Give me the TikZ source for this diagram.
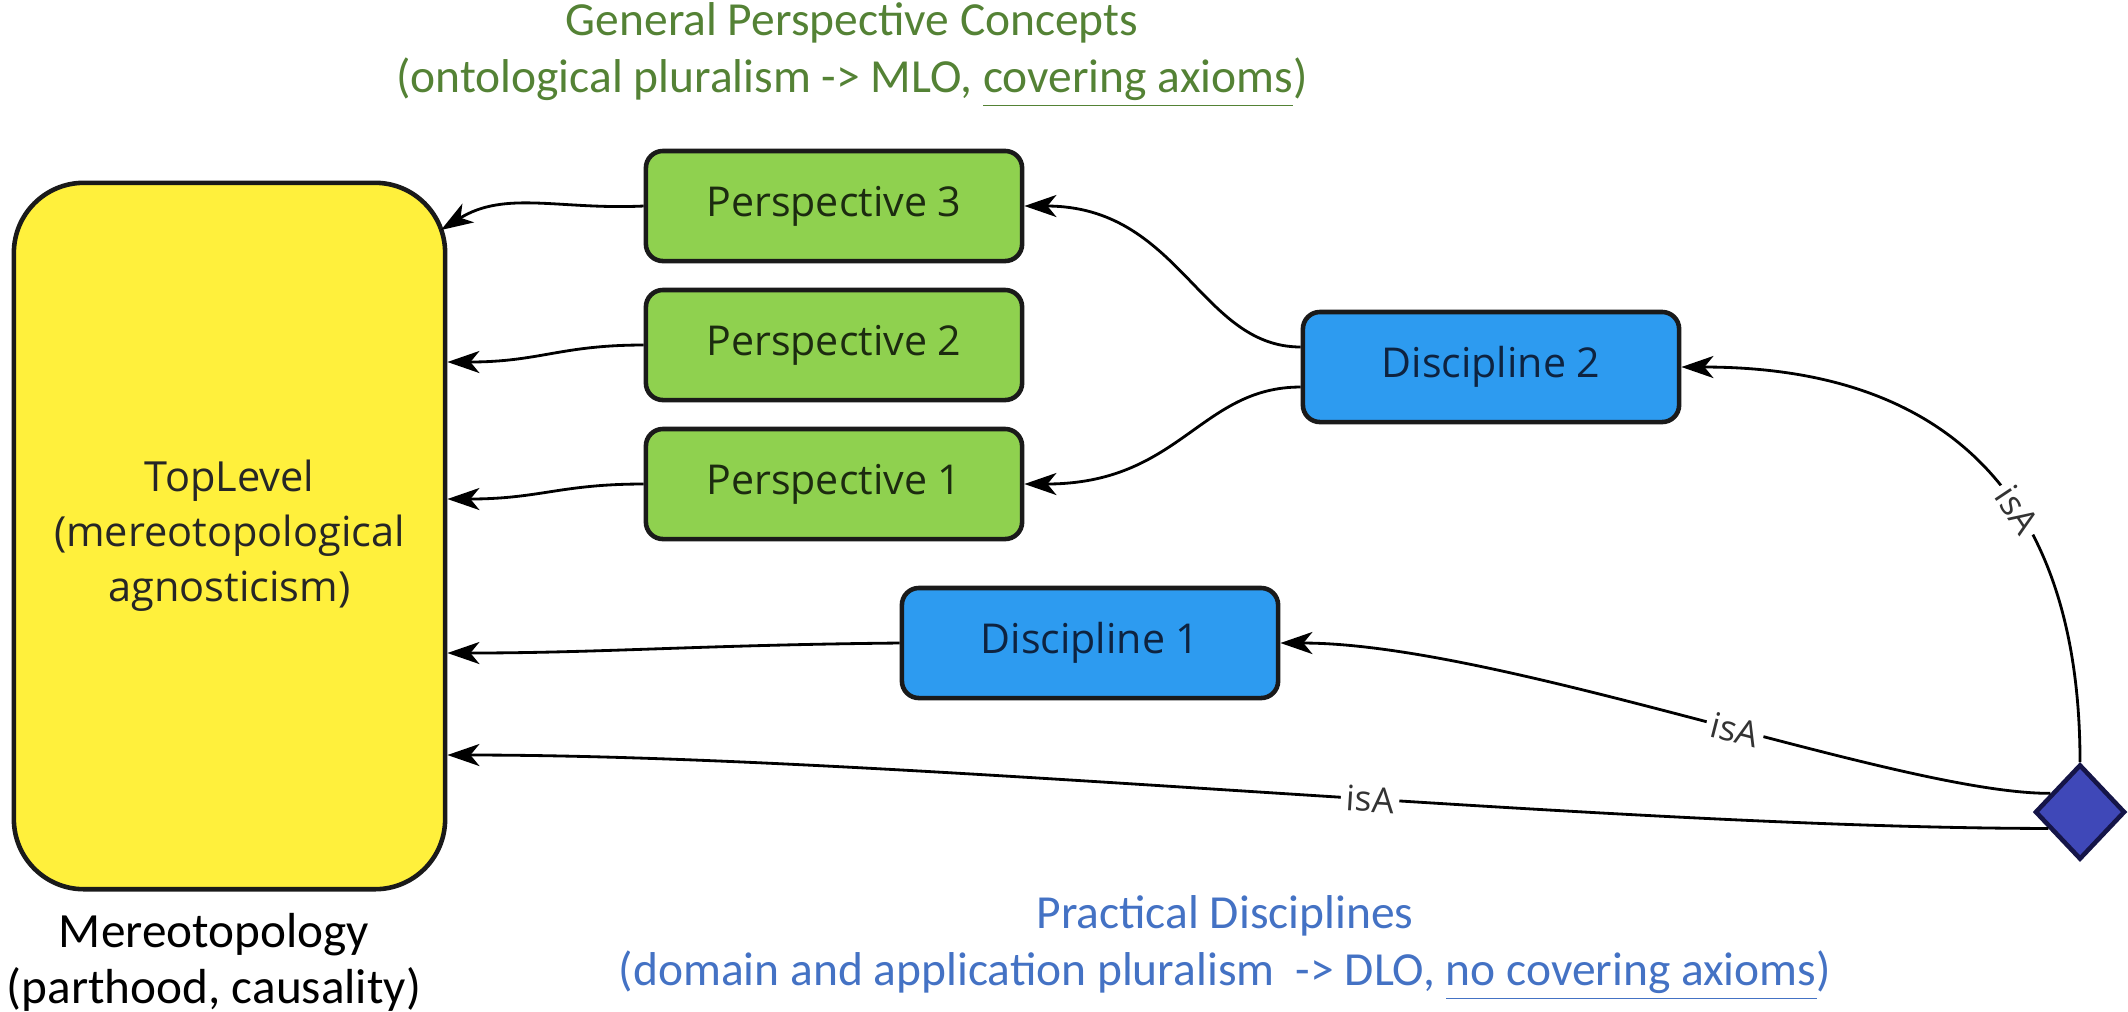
\documentclass[tikz,border=0pt]{standalone}
\usepackage{fontspec}
\setmainfont{Carlito}
\newfontfamily\boxfont{Open Sans}
\usetikzlibrary{arrows.meta,calc,shapes.geometric}

\definecolor{topfill}{HTML}{FFF03C}
\definecolor{persfill}{HTML}{8FD14F}
\definecolor{discfill}{HTML}{2D9BF0}
\definecolor{diafill}{HTML}{3F48B8}
\definecolor{edgeline}{HTML}{1A1A1A}
\definecolor{perstext}{HTML}{1C2B10}
\definecolor{disctext}{HTML}{0E2340}
\definecolor{gentitle}{HTML}{548235}
\definecolor{practitle}{HTML}{4472C4}

\tikzset{
  box/.style={draw=edgeline, line width=1.3pt, rounded corners=0.17cm,
    minimum width=3.76cm, minimum height=1.1cm, inner sep=0pt,
    font=\boxfont\fontsize{11.7}{14}\selectfont},
  persbox/.style={box, fill=persfill, text=perstext},
  discbox/.style={box, fill=discfill, text=disctext},
  link/.style={draw=black, line width=0.8pt,
    -{Stealth[length=0.32cm,width=0.22cm,inset=0.09cm]}},
  isa/.style={font=\boxfont\fontsize{10}{12}\selectfont, text=black!80,
    fill=white, inner sep=1.5pt, sloped},
  caption/.style={align=center, font=\fontsize{13.5}{16.2}\selectfont}
}

\begin{document}
\begin{tikzpicture}[x=0.01cm, y=-0.01cm]
\useasboundingbox (0,0) rectangle (2128,1011);

% top-level class
\node[draw=edgeline, line width=1.3pt, fill=topfill, rounded corners=0.7cm,
      minimum width=4.31cm, minimum height=7.06cm, align=center,
      text=black!85, font=\boxfont\fontsize{11.8}{15.6}\selectfont]
      (top) at (229.5,536) {TopLevel\\(mereotopological\\agnosticism)};

% perspectives
\node[persbox] (p3) at (834,206) {Perspective 3};
\node[persbox] (p2) at (834,345) {Perspective 2};
\node[persbox] (p1) at (834,484) {Perspective 1};

% disciplines
\node[discbox] (d2) at (1491,367) {Discipline 2};
\node[discbox] (d1) at (1090,643) {Discipline 1};

% hub
\node[diamond, draw=edgeline!80!blue, line width=1.3pt, fill=diafill,
      minimum width=0.9cm, minimum height=0.95cm, inner sep=0pt]
      (dia) at (2080,812) {};

% captions
\node[caption, text=gentitle] (gen) at (852,55)
  {General Perspective Concepts\\(ontological pluralism -> MLO, \underline{covering axioms})};
\node[caption, text=practitle] (prac) at (1225,948)
  {Practical Disciplines\\(domain and application pluralism~~-> DLO, \underline{no covering axioms})};
\node[caption, text=black, font=\fontsize{14}{16}\selectfont] (mer) at (214,962)
  {Mereotopology\\(parthood, causality)};

% perspective links to the top level
\draw[link] (p3.west) .. controls (560,210) and (505,190) .. (441,230);
\draw[link] (p2.west) .. controls (560,345) and (540,362) .. ($(top.east|-p2.west)+(0,17)$);
\draw[link] (p1.west) .. controls (560,484) and (540,499) .. ($(top.east|-p1.west)+(0,15)$);

% discipline links
\draw[link] (d1.west) .. controls (700,645) and (600,653) .. ($(top.east|-d1.west)+(0,10)$);
\draw[link] ([yshift=0.2cm]d2.west) .. controls (1200,347) and (1180,206) .. (p3.east);
\draw[link] ([yshift=-0.2cm]d2.west) .. controls (1200,387) and (1180,484) .. (p1.east);

% isA links from the hub
\draw[link] (dia.north) .. controls (2080,500) and (1950,367) ..
  node[isa, pos=0.4] {isA} (d2.east);
\draw[link] ($(dia.west)!0.375!(dia.north)$) .. controls (1900,794) and (1500,643) ..
  node[isa, pos=0.45] {isA} (d1.east);
\draw[link] ($(dia.west)!0.33!(dia.south)$) .. controls (1600,828) and (900,755) ..
  node[isa, pos=0.43] {isA} ($(top.east)+(0,219)$);
\end{tikzpicture}
\end{document}
